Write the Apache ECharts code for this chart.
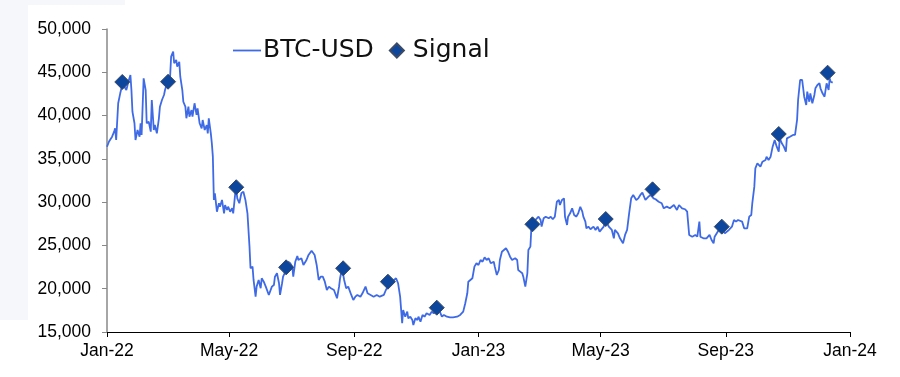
<!DOCTYPE html>
<html>
<head>
<meta charset="utf-8">
<script src="https://cdn.jsdelivr.net/npm/echarts@6/dist/echarts.min.js"></script>
<style>
  html, body { margin: 0; padding: 0; background: #fff; }
  #chart { width: 900px; height: 377px; }
</style>
</head>
<body>
<div id="chart"></div>
<script>
// days counted from 1 Jan 2022
const tickDays = [0, 120, 243, 365, 485, 608, 730];
const tickLabels = ["Jan-22", "May-22", "Sep-22", "Jan-23", "May-23", "Sep-23", "Jan-24"];

const priceDays = [
  0, 2, 5, 7, 8, 9, 10, 11, 13, 15, 17, 19, 21, 23, 24, 25, 27, 28, 30, 32,
  33, 34, 36, 38, 39, 41, 43, 44, 46, 47, 49, 51, 52, 54, 56, 57, 59, 62, 63, 65,
  66, 68, 69, 71, 72, 74, 75, 77, 78, 80, 81, 83, 84, 86, 88, 89, 91, 93, 94, 96,
  98, 99, 100, 102, 103, 104, 105, 106, 108, 110, 111, 113, 115, 116, 118, 119, 121, 123, 124, 126,
  127, 128, 130, 132, 134, 136, 138, 140, 141, 143, 144, 146, 147, 149, 151, 152, 154, 156, 157, 159,
  160, 162, 164, 165, 167, 169, 170, 172, 173, 176, 178, 180, 182, 183, 185, 187, 188, 191, 193, 196,
  198, 201, 204, 206, 208, 210, 212, 214, 216, 218, 220, 223, 226, 228, 229, 231, 233, 235, 237, 240,
  242, 244, 246, 249, 251, 254, 256, 259, 262, 265, 268, 272, 274, 277, 279, 282, 284, 286, 288, 290,
  291, 293, 295, 296, 298, 300, 301, 303, 305, 306, 308, 310, 312, 314, 317, 319, 321, 324, 327, 329,
  331, 334, 337, 340, 344, 347, 350, 352, 354, 355, 357, 359, 360, 361, 363, 365, 367, 369, 371, 373,
  375, 377, 380, 381, 383, 385, 386, 388, 390, 392, 394, 396, 398, 401, 403, 404, 406, 408, 409, 411,
  413, 414, 416, 417, 419, 421, 422, 424, 426, 427, 429, 431, 432, 434, 436, 438, 440, 442, 444, 445,
  447, 449, 450, 452, 453, 455, 457, 459, 461, 463, 465, 467, 468, 470, 471, 473, 475, 478, 480, 482,
  484, 488, 490, 493, 496, 498, 499, 502, 504, 507, 509, 511, 513, 515, 517, 520, 522, 524, 526, 529,
  532, 534, 537, 539, 542, 545, 547, 550, 553, 557, 560, 562, 565, 568, 570, 572, 575, 578, 580, 582,
  583, 586, 589, 592, 594, 596, 597, 600, 602, 605, 607, 611, 614, 616, 618, 620, 624, 626, 629, 631,
  633, 634, 636, 637, 639, 642, 644, 647, 648, 650, 652, 654, 656, 658, 660, 661, 663, 665, 667, 668,
  671, 674, 676, 678, 679, 681, 683, 685, 687, 688, 690, 691, 693, 695, 696, 698, 700, 701, 703, 705,
  706, 707, 709, 710, 711, 713
];
const priceValues = [
  36400, 37000, 37560, 38140, 38530, 37180, 37180, 41420, 42570, 43530, 43340, 42950, 43910, 44690, 42950, 40450, 39110, 37180, 38330, 37560,
  39110, 37760, 44300, 42950, 39110, 39290, 38140, 41800, 38330, 38910, 37950, 39690, 41030, 41800, 42380, 42950, 43730, 44490, 46800, 47380,
  46040, 46420, 45650, 46220, 44490, 42950, 41600, 41030, 39690, 41030, 39870, 40640, 39870, 41420, 40070, 40840, 39110, 38530, 39490, 38330,
  38910, 37950, 39690, 37950, 36800, 35250, 30250, 31020, 28900, 29870, 29480, 30250, 28710, 29670, 29090, 29480, 28900, 29290, 28710, 31020,
  31500, 30440, 29870, 31020, 31210, 30250, 28710, 24860, 22360, 22550, 21010, 19080, 20240, 21010, 20050, 21210, 20810, 20240, 20240, 19280,
  19280, 20240, 20430, 21390, 21780, 20630, 19280, 20630, 21390, 22160, 23120, 22940, 22550, 21390, 23120, 23780, 23320, 23520, 22740, 23320,
  23900, 24390, 23900, 22740, 21010, 21390, 21390, 20810, 19850, 20240, 20050, 19850, 18900, 20240, 21210, 22360, 21010, 20050, 20240, 19280,
  18700, 19080, 19280, 19080, 19470, 20240, 19470, 19280, 19080, 19280, 19080, 19280, 19850, 20430, 20430, 21010, 21210, 20630, 19080, 16010,
  17540, 16770, 17350, 16580, 16770, 16390, 15810, 16580, 16390, 16770, 16190, 16970, 16770, 17160, 16970, 17350, 17160, 17540, 17350, 16770,
  16970, 16770, 16700, 16700, 16770, 16970, 17350, 18320, 19470, 20810, 21010, 21210, 21010, 22550, 22940, 22740, 23320, 23120, 23630, 23320,
  23520, 22940, 23120, 22550, 21590, 22160, 23320, 24270, 24470, 24670, 24270, 23700, 23320, 23520, 23320, 22160, 21970, 21780, 21390, 20240,
  21780, 24470, 24860, 27170, 27560, 27940, 27750, 28320, 27940, 27170, 28140, 28320, 28520, 28140, 28320, 28020, 28320, 30050, 30250, 29670,
  30250, 30440, 28320, 27360, 28320, 28710, 29290, 28520, 28320, 28710, 29470, 28900, 28320, 27750, 26980, 27170, 26870, 27170, 26790, 27170,
  26590, 27170, 27940, 27170, 26790, 25820, 26790, 26400, 25820, 25250, 26210, 26790, 28710, 30440, 30830, 30250, 30440, 30830, 31100, 30250,
  30630, 30830, 30440, 30330, 30050, 29870, 29290, 29480, 29290, 29670, 29090, 29670, 29290, 29180, 28900, 26210, 26010, 26210, 26010, 27750,
  26010, 25820, 25820, 26210, 25630, 25250, 26010, 26590, 26980, 26790, 26400, 26790, 27170, 27940, 27750, 27940, 27750, 26980, 26980, 28320,
  28520, 29870, 31790, 33910, 34490, 34100, 34670, 34870, 35250, 34870, 35250, 36410, 37180, 36410, 35830, 37370, 36800, 36410, 35830, 37370,
  37560, 37760, 37760, 39490, 41800, 44110, 44110, 42180, 41220, 42760, 41600, 42570, 41420, 42380, 43150, 43530, 43730, 43150, 42570, 42180,
  42180, 43730, 42950, 44300, 43910, 43800
];

const signalDays = [15, 60, 127, 176, 232, 276, 324, 418, 490, 536, 604, 660, 708];
const signalValues = [43880, 43910, 31720, 22470, 22360, 20810, 17810, 27440, 28050, 31480, 27170, 37870, 44950];

const linePath = "path://M0,0 L28,0 L28,1.8 L0,1.8 Z";
const diamondPath = "path://M5,0 L10,5 L5,10 L0,5 Z";

const chart = echarts.init(document.getElementById("chart"));
chart.setOption({
  animation: false,
  backgroundColor: "#ffffff",
  graphic: [
    { type: "rect", silent: true, z: -10, shape: { x: 0, y: 0, width: 28, height: 320 }, style: { fill: "#f6f7fa" } },
    { type: "rect", silent: true, z: -10, shape: { x: 0, y: 0, width: 125, height: 5 }, style: { fill: "#f6f7fa" } }
  ],
  grid: { left: 107, right: 50, top: 29, bottom: 45 },
  legend: {
    left: 228,
    top: 33,
    itemWidth: 28,
    itemHeight: 14,
    itemGap: 15,
    symbolKeepAspect: true,
    textStyle: { fontFamily: "DejaVu Sans", fontSize: 25, color: "#111", padding: [0, 0, 0, -3] },
    data: [
      { name: "BTC-USD", icon: linePath, itemStyle: { color: "#3f6ae6", borderWidth: 0 } },
      { name: "Signal", icon: diamondPath }
    ]
  },
  xAxis: {
    type: "value",
    min: 0,
    max: 730,
    splitLine: { show: false },
    axisLine: { lineStyle: { color: "#000", width: 1 } },
    axisTick: { customValues: tickDays, length: 5, lineStyle: { color: "#000" } },
    axisLabel: {
      customValues: tickDays,
      margin: 10,
      fontFamily: "Liberation Sans",
      fontSize: 17.5,
      color: "#000",
      formatter: v => tickLabels[tickDays.indexOf(v)] || ""
    }
  },
  yAxis: {
    type: "value",
    min: 15000,
    max: 50000,
    interval: 5000,
    splitLine: { show: false },
    axisLine: { show: true, lineStyle: { color: "#888", width: 1.5 } },
    axisTick: { show: true, length: 5, lineStyle: { color: "#888" } },
    axisLabel: {
      margin: 16,
      fontFamily: "Liberation Sans",
      fontSize: 17.5,
      color: "#000",
      formatter: v => v.toLocaleString("en-US")
    }
  },
  series: [
    {
      name: "BTC-USD",
      type: "line",
      symbol: "none",
      data: priceDays.map((d, i) => [d, priceValues[i]]),
      lineStyle: { color: "#3f6ae6", width: 1.8 },
      itemStyle: { color: "#3f6ae6" }
    },
    {
      name: "Signal",
      type: "scatter",
      symbol: "diamond",
      symbolSize: 15,
      data: signalDays.map((d, i) => [d, signalValues[i]]),
      itemStyle: { color: "#0c479d", borderColor: "#3b4a66", borderWidth: 1, opacity: 1 },
      z: 5
    }
  ]
});
</script>
</body>
</html>
